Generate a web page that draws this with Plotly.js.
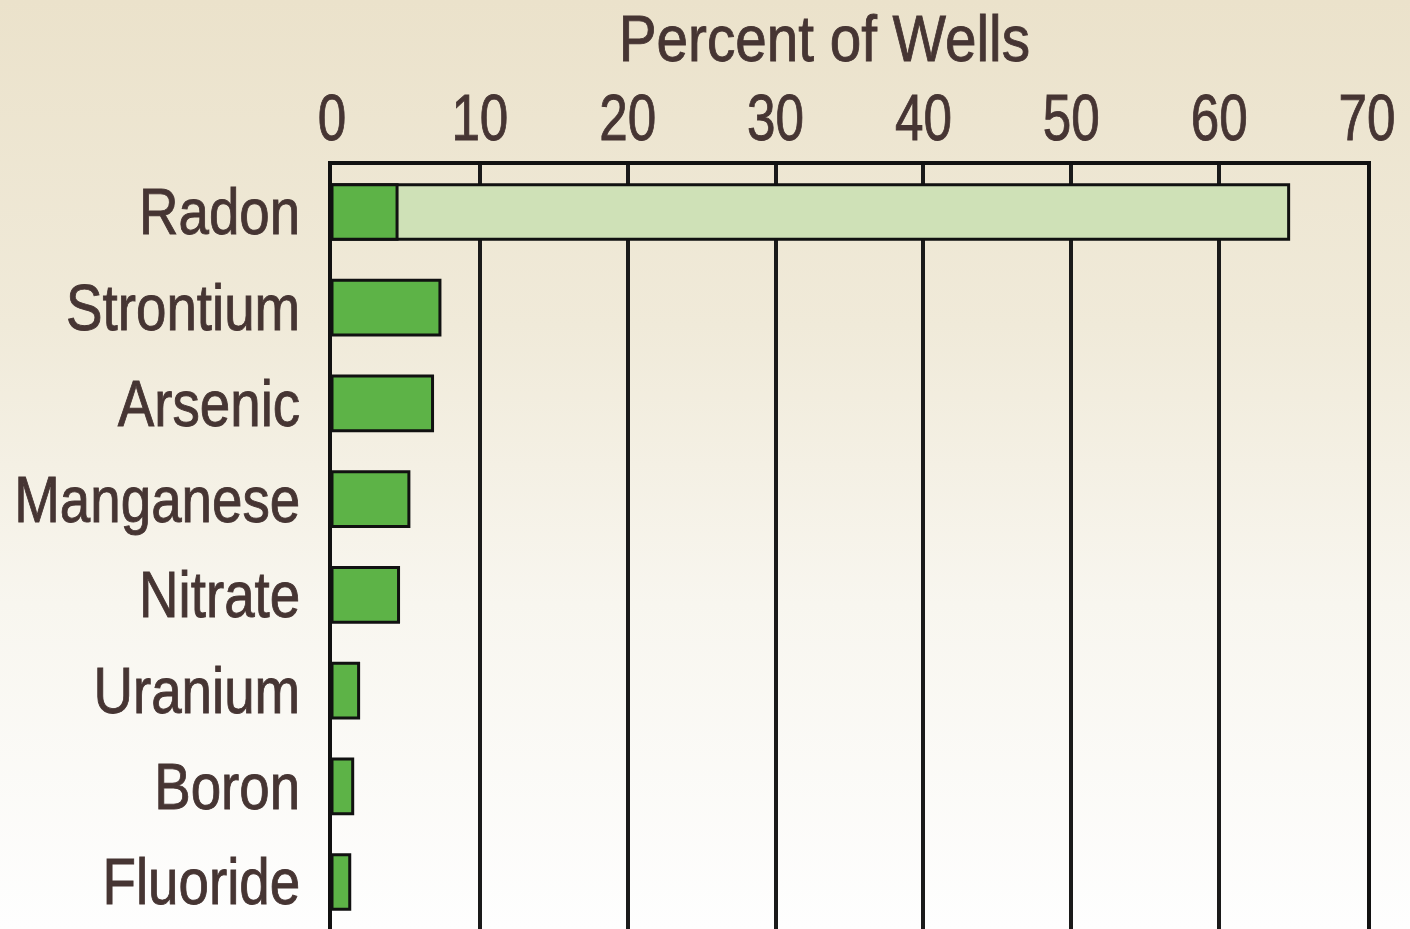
<!DOCTYPE html>
<html><head><meta charset="utf-8">
<script src="https://cdn.plot.ly/plotly-3.0.1.min.js"></script>
<style>
html,body{margin:0;padding:0;}
body{width:1410px;height:929px;overflow:hidden;background:linear-gradient(to bottom,#ebe2cb 0%,#f0ead9 35%,#f8f6ef 65%,#fefefe 100%);}
#chart{width:1410px;height:929px;}
#chart text{stroke:#463533;stroke-width:0.9px;}
</style></head><body>
<div id="chart"></div>
<script>
const categories = ["Radon","Strontium","Arsenic","Manganese","Nitrate","Uranium","Boron","Fluoride"];
const exceedValues = [4.4, 7.3, 6.8, 5.2, 4.5, 1.8, 1.4, 1.2];
const radonTotalCategory = ["Radon"];
const radonTotalValue = [64.7];
const tickValues = [0,10,20,30,40,50,60,70];

const fontFam = '"Liberation Sans",Arial,sans-serif';
const txt = '#463533';
const fs = 64;

const traces = [
  {type:'bar', orientation:'h', y: radonTotalCategory, x: radonTotalValue, width:0.57,
   marker:{color:'#cfe1b7', line:{color:'#111', width:3}}, hoverinfo:'x+y'},
  {type:'bar', orientation:'h', y: categories, x: exceedValues, width:0.57,
   marker:{color:'#5db347', line:{color:'#111', width:3}}, hoverinfo:'x+y'}
];

const layout = {
  width:1410, height:929,
  margin:{l:332, r:43, t:165, b:0, pad:0},
  paper_bgcolor:'rgba(0,0,0,0)', plot_bgcolor:'rgba(0,0,0,0)',
  showlegend:false, barmode:'overlay',
  font:{family:fontFam, color:txt, size:fs},
  xaxis:{side:'top', range:[0,70], tickvals:tickValues, ticktext:tickValues.map(String),
    showgrid:true, gridcolor:'#1a1a1a', gridwidth:4, zeroline:false,
    showline:true, linecolor:'#111', linewidth:4, ticks:'', ticklabelstandoff:-5,
    tickfont:{family:fontFam, color:txt, size:fs}, fixedrange:true},
  yaxis:{type:'category', categoryarray:categories, categoryorder:'array', range:[7.49,-0.49],
    showgrid:false, zeroline:false, showline:true, mirror:true, linecolor:'#111', linewidth:4,
    ticks:'', ticklabelstandoff:15, tickfont:{family:fontFam, color:txt, size:fs}, fixedrange:true},
  annotations:[{text:'Percent of Wells', xref:'paper', yref:'paper', x:0.4763, y:1, yshift:126,
    xanchor:'center', yanchor:'middle', showarrow:false, font:{family:fontFam, color:txt, size:fs}}]
};

function condense(sel, s){
  document.querySelectorAll(sel).forEach(t=>{
    const x = parseFloat(t.getAttribute('x')||'0');
    const tr = t.getAttribute('transform')||'';
    t.setAttribute('transform', tr+' translate('+x+',0) scale('+s+',1) translate('+(-x)+',0)');
  });
}
Plotly.newPlot('chart', traces, layout, {displayModeBar:false, staticPlot:true}).then(()=>{
  condense('.xtick text', 0.8);
  condense('.ytick text', 0.855);
  condense('.annotation-text', 0.885);
});
</script>
</body></html>
